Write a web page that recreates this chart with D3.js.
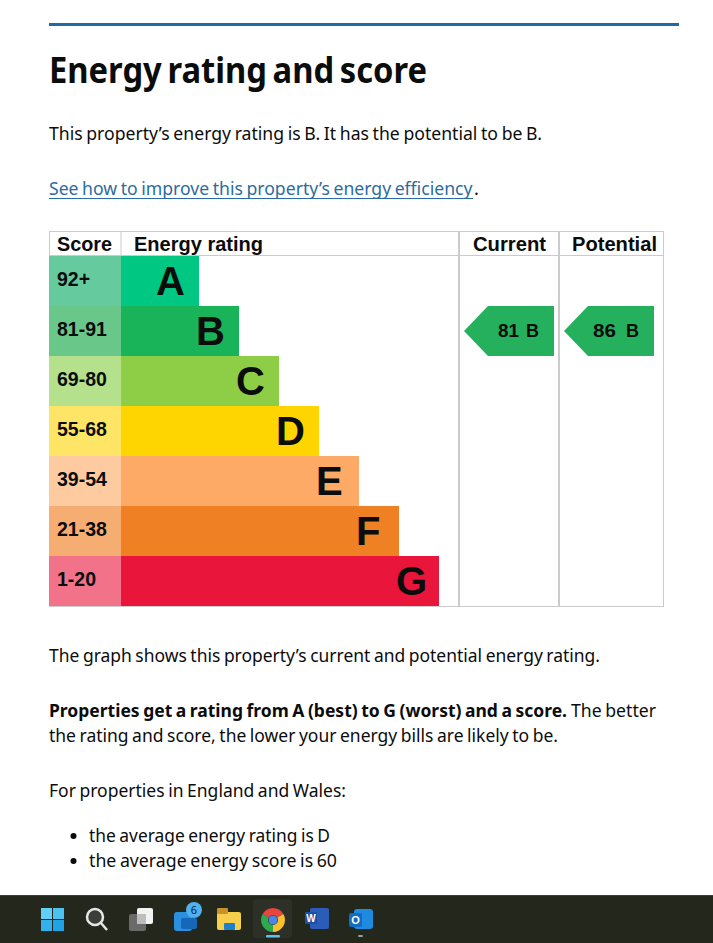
<!DOCTYPE html>
<html><head><meta charset="utf-8">
<script src="https://cdn.jsdelivr.net/npm/d3@7/dist/d3.min.js"></script>
<style>html,body{margin:0;padding:0;background:#fff;overflow:hidden}svg{display:block}</style>
</head><body><svg id="c" width="713" height="943"></svg>
<script>
const ratings=["A","B","C","D","E","F","G"];
const scoreBands=["92+","81-91","69-80","55-68","39-54","21-38","1-20"];
const barLevels=[2,3,4,5,6,7,8];
const barColors=["#00c781","#19b459","#8dce46","#ffd500","#fcaa65","#ef8023","#e9153b"];
const scoreColors=["#66ca9f","#6ac78a","#b5e08c","#ffe566","#fdcb9f","#f6ad72","#f27289"];
const pointerCols=["Current","Potential"];
const pointerScores=[81,86];
const pointerRatings=["B","B"];
const headers=["Score","Energy rating","Current","Potential"];
const pointerColor="#25b05d";

const svg=d3.select("#c");
const body="'Noto Sans',sans-serif", table="'Liberation Sans',Arial,sans-serif", ink="#0b0c0c", link="#2b6ca0";
const y=d3.scaleBand().domain(ratings).range([256,606]);
const x=d3.scaleLinear().domain([0,8]).range([119,439]);

function t(s,px,py,o={}){const e=svg.append("text").attr("x",px).attr("y",py).text(s)
 .attr("font-family",o.f||body).attr("font-size",o.s||18).attr("font-weight",o.w||400).attr("fill",o.c||ink);
 if(o.f!==table)e.attr("word-spacing",o.ws===undefined?-1:o.ws);
 if(o.len)e.attr("textLength",o.len).attr("lengthAdjust","spacingAndGlyphs");
 if(o.a)e.attr("text-anchor",o.a);return e;}

svg.append("rect").attr("x",49).attr("y",23).attr("width",630).attr("height",3).attr("fill","#1f6aa8");
t("Energy rating and score",49,83,{s:35,w:700,len:378,ws:-3});
t("This property\u2019s energy rating is B. It has the potential to be B.",49,140,{len:493});
t("See how to improve this property\u2019s energy efficiency",49,195,{c:link,s:17.4,len:423.5});
t(".",474,195);
svg.append("line").attr("x1",49).attr("x2",473).attr("y1",198.5).attr("y2",198.5).attr("stroke",link);

// table frame
const grid="#cbcbcb";
svg.append("rect").attr("x",49.5).attr("y",231.5).attr("width",614).attr("height",375).attr("fill","none").attr("stroke",grid);
svg.append("line").attr("x1",49).attr("x2",664).attr("y1",255.5).attr("y2",255.5).attr("stroke",grid);
svg.append("line").attr("x1",121).attr("x2",121).attr("y1",232).attr("y2",256).attr("stroke",grid);
[459,559].forEach(v=>svg.append("line").attr("x1",v).attr("x2",v).attr("y1",232).attr("y2",606).attr("stroke",grid).attr("stroke-width",2));

const hx=[57,134,473,572],hl=[55,129,73,85];
headers.forEach((h,i)=>t(h,hx[i],251,{f:table,s:20,w:700,len:hl[i]}));

svg.selectAll(".s").data(ratings).join("rect").attr("x",49).attr("width",72)
 .attr("y",d=>y(d)).attr("height",y.bandwidth()).attr("fill",(d,i)=>scoreColors[i]);
svg.selectAll(".b").data(ratings).join("rect").attr("x",x(0)+2)
 .attr("width",(d,i)=>x(barLevels[i])-x(0)-2)
 .attr("y",d=>y(d)).attr("height",y.bandwidth()).attr("fill",(d,i)=>barColors[i]);
scoreBands.forEach((s,i)=>t(s,57,y(ratings[i])+29.5,{f:table,s:19.5,w:700}));
ratings.forEach((r,i)=>t(r,x(barLevels[i])-43,y(r)+39,{f:table,s:40,w:700}));

const colX={Current:554,Potential:654};
const digitStart={Current:44,Potential:39},digitLen={Current:21,Potential:23};
pointerCols.forEach((c,i)=>{
 const top=y(pointerRatings[i]),h=y.bandwidth(),Rr=colX[c];
 svg.append("path").attr("d",d3.line()([[Rr,top],[Rr-66,top],[Rr-90,top+h/2],[Rr-66,top+h],[Rr,top+h]])+"Z").attr("fill",pointerColor);
 t(String(pointerScores[i]),Rr-100+digitStart[c],top+31,{f:table,s:19,w:700,len:digitLen[c]});
 t(pointerRatings[i],Rr-15,top+31,{f:table,s:18,w:700,a:"end"});
});

t("The graph shows this property\u2019s current and potential energy rating.",49,662,{len:551});
t("Properties get a rating from A (best) to G (worst) and a score.",49,717,{w:700,s:17.4,len:518});
t("The better",571,717,{len:85});
t("the rating and score, the lower your energy bills are likely to be.",49,742,{len:509});
t("For properties in England and Wales:",49,797,{len:297});
t("the average energy rating is D",89,842,{len:241});
t("the average energy score is 60",89,867,{len:248});
[836,861].forEach(v=>svg.append("circle").attr("cx",73.5).attr("cy",v).attr("r",3).attr("fill",ink));

// taskbar
svg.append("rect").attr("x",0).attr("y",895).attr("width",713).attr("height",48).attr("fill","#23271c");
svg.append("line").attr("x1",0).attr("x2",713).attr("y1",895.5).attr("y2",895.5).attr("stroke","#3a3f36");
const g=svg.append("g");
const R=(a,b,w,h,f,r=0)=>g.append("rect").attr("x",a).attr("y",b).attr("width",w).attr("height",h).attr("fill",f).attr("rx",r);
[[41,908,"#5fd0f7"],[53,908,"#4cc2f1"],[41,920,"#33b1ec"],[53,920,"#1fa3e4"]].forEach(d=>R(d[0],d[1],11,11,d[2]));
g.append("circle").attr("cx",95).attr("cy",917).attr("r",8).attr("fill","#3a3d38").attr("stroke","#e6e6e6").attr("stroke-width",2.5);
g.append("line").attr("x1",101).attr("y1",923).attr("x2",107).attr("y2",930).attr("stroke","#e6e6e6").attr("stroke-width",2.5);
R(129,914,17,17,"#6a6a6a",2);R(137,908,16,16,"#f2f2f2",2);R(137,914,9,10,"#bdbdbd");
R(174,912,18,19,"#2b8fe0",3);R(181,918,16,11,"#1567b8",2);
g.append("circle").attr("cx",194).attr("cy",910).attr("r",8).attr("fill","#4fb2ee");
g.append("text").attr("x",194).attr("y",914).attr("text-anchor","middle").attr("font-family",body).attr("font-size",11).attr("fill","#10222e").text("6");
R(217,912,24,18,"#f7cf4a",2);R(217,908,11,6,"#c9932a",1);R(224,923,11,7,"#1f7fc9",1);
R(253,899,39,39,"#2c3026",4);
const arc=d3.arc().innerRadius(5).outerRadius(12);
[["#e8453c",-60,60],["#fbc02d",60,180],["#2fa84f",180,300]].forEach(d=>g.append("path").attr("transform","translate(273,920)")
 .attr("d",arc({startAngle:d[1]*Math.PI/180,endAngle:d[2]*Math.PI/180})).attr("fill",d[0]));
g.append("circle").attr("cx",273).attr("cy",920).attr("r",4.5).attr("fill","#4a86e8");
R(266,935,14,2.5,"#5fc0ea",1);
R(310,908,19,21,"#2a5cb8",2);R(305,912,12,12,"#1d4fa5",1);
g.append("text").attr("x",311).attr("y",922).attr("text-anchor","middle").attr("font-family",table).attr("font-size",10).attr("font-weight",700).attr("fill","#fff").text("W");
R(354,909,19,20,"#1f8be0",3);R(349,913,13,14,"#0f6cc0",2);
g.append("text").attr("x",355.5).attr("y",924).attr("text-anchor","middle").attr("font-family",table).attr("font-size",11).attr("font-weight",700).attr("fill","#fff").text("O");
R(358,935,5,2,"#9a9a9a",1);
</script></body></html>
